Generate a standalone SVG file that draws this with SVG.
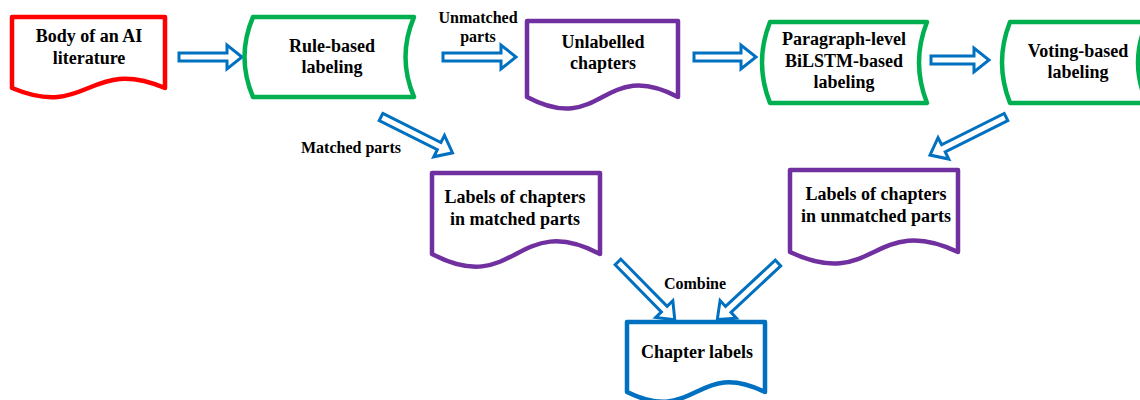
<svg xmlns="http://www.w3.org/2000/svg" width="1140" height="400" viewBox="0 0 1140 400">
<style>
.node{fill:#fff;stroke-width:4.5;stroke-linejoin:round}
.red{stroke:#FF0000}.green{stroke:#00B050}.purple{stroke:#7030A0}.blue{stroke:#0070C0}
text{font-family:'Liberation Serif','Times New Roman','DejaVu Serif',serif;font-weight:bold;fill:#000;text-anchor:middle}
.t{font-size:18px}
.lbl{font-size:16px}
.arr{fill:#fff;stroke:#0070C0;stroke-width:3;stroke-linejoin:miter}
</style>
<rect width="1140" height="400" fill="#fff"/>
<g id="connectors">
<path class="arr" transform="translate(179,57)" d="M0,-4 H48 V-12 L63,0 L48,12 V4 H0 Z"/>
<path class="arr" transform="translate(443,57)" d="M0,-4 H58 V-12 L73,0 L58,12 V4 H0 Z"/>
<path class="arr" transform="translate(694,57)" d="M0,-4 H47 V-12 L62,0 L47,12 V4 H0 Z"/>
<path class="arr" transform="translate(931,60)" d="M0,-4 H43 V-12 L58,0 L43,12 V4 H0 Z"/>
<path class="arr" transform="translate(381,117) rotate(26.6)" d="M0,-4 H65 V-12 L80,0 L65,12 V4 H0 Z"/>
<path class="arr" transform="translate(1006,117) rotate(153.4)" d="M0,-4 H70 V-12 L85,0 L70,12 V4 H0 Z"/>
<path class="arr" transform="translate(618,262) rotate(45.5)" d="M0,-4 H66 V-12 L81,0 L66,12 V4 H0 Z"/>
<path class="arr" transform="translate(778,263) rotate(137)" d="M0,-4 H68 V-12 L83,0 L68,12 V4 H0 Z"/>
<text class="lbl" font-family="Liberation Serif, serif" x="478" y="23">Unmatched</text>
<text class="lbl" font-family="Liberation Serif, serif" x="478" y="42">parts</text>
<text class="lbl" font-family="Liberation Serif, serif" x="351" y="153">Matched parts</text>
<text class="lbl" font-family="Liberation Serif, serif" x="695" y="289">Combine</text>
</g>
<g id="body">
<path class="node red" d="M12,17 H165 V88 C88.5,56 88.5,120 12,88 Z"/>
<text class="t" x="89" y="42">Body of an AI</text>
<text class="t" x="89" y="64">literature</text>
</g>
<g id="rule">
<path class="node green" d="M253,17 H414 Q397,57 414,97 H253 Q236,57 253,17 Z"/>
<text class="t" x="332" y="52">Rule-based</text>
<text class="t" x="332" y="73">labeling</text>
</g>
<g id="unlabelled">
<path class="node purple" d="M527,21 H678 V97 C602.5,57 602.5,137 527,97 Z"/>
<text class="t" x="603" y="48">Unlabelled</text>
<text class="t" x="603" y="69">chapters</text>
</g>
<g id="paragraph">
<path class="node green" d="M770,22 H927 Q911,62.5 927,103 H770 Q754,62.5 770,22 Z"/>
<text class="t" x="844" y="45">Paragraph-level</text>
<text class="t" x="844" y="67">BiLSTM-based</text>
<text class="t" x="844" y="88">labeling</text>
</g>
<g id="voting">
<path class="node green" d="M1010,22 H1147 Q1129,62.5 1147,103 H1010 Q994,62.5 1010,22 Z"/>
<text class="t" x="1078" y="57">Voting-based</text>
<text class="t" x="1078" y="78">labeling</text>
</g>
<g id="matched">
<path class="node purple" d="M432,173 H600 V254 C516,210 516,298 432,254 Z"/>
<text class="t" x="515" y="203">Labels of chapters</text>
<text class="t" x="515" y="225">in matched parts</text>
</g>
<g id="unmatched">
<path class="node purple" d="M790,170 H958 V252 C874,212 874,292 790,252 Z"/>
<text class="t" x="876" y="200">Labels of chapters</text>
<text class="t" x="876" y="222">in unmatched parts</text>
</g>
<g id="chapter">
<path class="node blue" d="M627,322 H765 V392 C696,358 696,426 627,392 Z"/>
<text class="t" x="697" y="358">Chapter labels</text>
</g>
</svg>
